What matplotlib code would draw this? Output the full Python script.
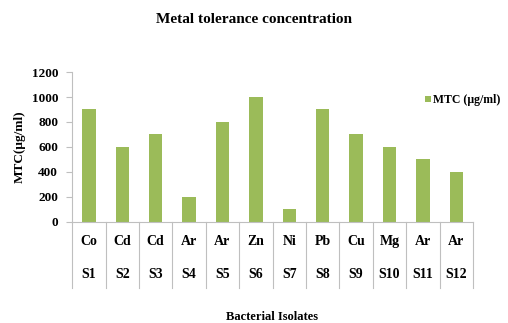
import matplotlib
matplotlib.use("Agg")
import matplotlib.pyplot as plt
import matplotlib.transforms as mtransforms

# Bacterial isolates, the metal each tolerates, and the MTC values
isolates = ["S1", "S2", "S3", "S4", "S5", "S6", "S7", "S8", "S9", "S10", "S11", "S12"]
metals = ["Co", "Cd", "Cd", "Ar", "Ar", "Zn", "Ni", "Pb", "Cu", "Mg", "Ar", "Ar"]
mtc = [900, 600, 700, 200, 800, 1000, 100, 900, 700, 600, 500, 400]
yticks = [0, 200, 400, 600, 800, 1000, 1200]

plt.rcParams["font.family"] = ["Liberation Serif", "DejaVu Serif"]
plt.rcParams["font.weight"] = "bold"

green = "#9BBB59"
grid_grey = "#BFBFBF"

fig = plt.figure(figsize=(5.08, 3.23), dpi=100)
ax = fig.add_axes([0.142, 0.313, 0.789, 0.464])

x = list(range(len(isolates)))
bars = ax.bar(x, mtc, width=0.4, color=green, label="MTC (µg/ml)", zorder=2)

ax.set_xlim(-0.5, len(isolates) - 0.5)
ax.set_ylim(0, 1200)
ax.set_yticks(yticks)
ax.set_yticklabels([str(v) for v in yticks], fontsize=9.5, fontweight="bold")
ax.set_xticks([])

for s in ["top", "right"]:
    ax.spines[s].set_visible(False)
ax.spines["left"].set_color(grid_grey)
ax.spines["bottom"].set_color(grid_grey)
ax.tick_params(axis="y", length=4, color=grid_grey, pad=6)

# Two-row category table below the axis
trans = mtransforms.blended_transform_factory(ax.transData, ax.transAxes)
ax_h_px = 0.464 * 323
row1 = -20 / ax_h_px
row2 = -53 / ax_h_px
bottom = -66 / ax_h_px
for i in range(len(isolates) + 1):
    ax.plot([i - 0.5, i - 0.5], [0, bottom], transform=trans, color=grid_grey,
            lw=0.8, clip_on=False)
for i, (m, s) in enumerate(zip(metals, isolates)):
    ax.text(i, row1, m, transform=trans, ha="center", va="center",
            fontsize=10, fontweight="bold")
    ax.text(i, row2, s, transform=trans, ha="center", va="center",
            fontsize=10, fontweight="bold")

ax.set_ylabel("MTC(µg/ml)", fontsize=9.5, fontweight="bold", labelpad=4)

fig.text(0.5, 0.94, "Metal tolerance concentration", ha="center", va="center",
         fontsize=11, fontweight="bold")
fig.text(0.535, 0.02, "Bacterial Isolates", ha="center", va="center",
         fontsize=9, fontweight="bold")

leg = fig.legend(handles=[bars], labels=["MTC (µg/ml)"], loc="center left",
                 bbox_to_anchor=(0.837, 0.69), frameon=False, fontsize=8.5,
                 handlelength=0.45, handleheight=0.45, handletextpad=0.25,
                 borderaxespad=0, borderpad=0)

fig.savefig("out.png", dpi=100)
